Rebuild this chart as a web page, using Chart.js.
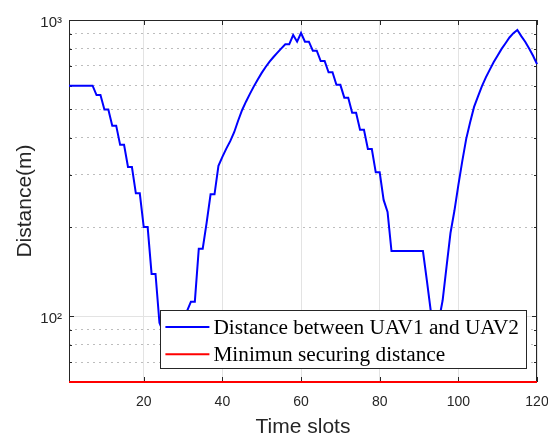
<!DOCTYPE html>
<html>
<head>
<meta charset="utf-8">
<script src="https://cdn.jsdelivr.net/npm/chart.js@4.4.0/dist/chart.umd.min.js"></script>
<style>
  html, body { margin: 0; padding: 0; background: #fff; }
  canvas { display: block; }
</style>
</head>
<body>
<canvas id="distChart" width="548" height="437"></canvas>
<script>
// time slots 1..120
const slots = Array.from({ length: 120 }, (_, i) => i + 1);

// distance between UAV1 and UAV2 (m)
const distance = [
  600, 600, 600, 600, 600, 600, 600, 558, 558, 499,
  499, 440, 440, 379, 379, 319, 319, 260, 260, 200,
  200, 139, 139, 95, 88, 80, 76, 80, 90, 100,
  104, 112, 112, 169, 169, 207, 258, 258, 322, 345,
  368, 390, 418, 457, 496, 530, 563, 597, 630, 663,
  694, 723, 750, 776, 802, 828, 828, 890, 845, 904,
  845, 845, 788, 788, 727, 727, 666, 666, 604, 604,
  547, 547, 486, 486, 426, 426, 367, 367, 306, 306,
  247, 225, 166, 166, 166, 166, 166, 166, 166, 166,
  166, 132, 104, 88, 96, 113, 147, 191, 227, 277,
  334, 397, 452, 509, 552, 598, 640, 680, 721, 759,
  799, 835, 873, 903, 925, 882, 845, 801, 757, 710
];

const minSecuring = 60;

const xTicks = [20, 40, 60, 80, 100, 120];
const yTicks = [60, 70, 80, 90, 100, 200, 300, 400, 500, 600, 700, 800, 900, 1000];
const yTickLabels = { 100: '10²', 1000: '10³' };

const isDecade = v => Math.abs(Math.log10(v) - Math.round(Math.log10(v))) < 1e-9;
const axisColor = '#262626';

// box round the plot with inward ticks, like matlab's "box on"
const axesBox = {
  id: 'axesBox',
  beforeDatasetsDraw(chart) {
    const { ctx, chartArea: a, scales } = chart;
    ctx.save();
    ctx.strokeStyle = axisColor;
    ctx.lineWidth = 1;
    ctx.strokeRect(a.left + 0.5, a.top + 0.5, a.right - a.left - 1, a.bottom - a.top);
    ctx.beginPath();
    xTicks.forEach(v => {
      const x = Math.round(scales.x.getPixelForValue(v)) + 0.5;
      ctx.moveTo(x, a.bottom); ctx.lineTo(x, a.bottom - 5);
      ctx.moveTo(x, a.top); ctx.lineTo(x, a.top + 5);
    });
    yTicks.forEach(v => {
      const y = Math.round(scales.y.getPixelForValue(v)) + 0.5;
      const len = isDecade(v) ? 5 : 3;
      ctx.moveTo(a.left, y); ctx.lineTo(a.left + len, y);
      ctx.moveTo(a.right, y); ctx.lineTo(a.right - len, y);
    });
    ctx.stroke();
    ctx.restore();
  }
};

// legend box inside the plot, bottom right
const legendBox = {
  id: 'legendBox',
  afterDraw(chart) {
    const { ctx, chartArea: a } = chart;
    const sets = chart.data.datasets;
    ctx.save();
    ctx.font = '21.3px "Liberation Serif", "Times New Roman", serif';
    const textW = Math.max(...sets.map(d => ctx.measureText(d.label).width));
    const padL = 5, lineLen = 44, gap = 4, padR = 7;
    const w = padL + lineLen + gap + textW + padR;
    const h = 58;
    const right = a.right - 11;
    const bottom = a.bottom - 14;
    const left = right - w, top = bottom - h;
    ctx.fillStyle = '#fff';
    ctx.fillRect(left, top, w, h);
    ctx.strokeStyle = axisColor;
    ctx.lineWidth = 1;
    ctx.strokeRect(Math.round(left) + 0.5, Math.round(top) + 0.5, Math.round(w), Math.round(h));
    sets.forEach((d, i) => {
      const y = top + 17 + i * 27.3;
      ctx.strokeStyle = d.borderColor;
      ctx.lineWidth = 2;
      ctx.beginPath();
      ctx.moveTo(left + padL, y);
      ctx.lineTo(left + padL + lineLen, y);
      ctx.stroke();
      ctx.fillStyle = '#000';
      ctx.textBaseline = 'middle';
      ctx.textAlign = 'left';
      ctx.fillText(d.label, left + padL + lineLen + gap, y + 1);
    });
    ctx.restore();
  }
};

new Chart(document.getElementById('distChart'), {
  type: 'line',
  data: {
    datasets: [{
      label: 'Distance between UAV1 and UAV2',
      data: slots.map((t, i) => ({ x: t, y: distance[i] })),
      borderColor: '#0000ff',
      borderWidth: 2,
      pointRadius: 0,
      tension: 0,
      clip: 3
    }, {
      label: 'Minimun securing distance',
      data: [{ x: slots[0], y: minSecuring }, { x: slots[slots.length - 1], y: minSecuring }],
      borderColor: '#ff0000',
      borderWidth: 2,
      pointRadius: 0,
      clip: 3
    }]
  },
  options: {
    responsive: false,
    animation: false,
    devicePixelRatio: 1,
    layout: { padding: { left: 0, right: 11, top: 20, bottom: 0 } },
    plugins: {
      legend: { display: false },
      tooltip: { enabled: false }
    },
    scales: {
      x: {
        type: 'linear',
        min: slots[0],
        max: slots[slots.length - 1],
        afterBuildTicks: s => { s.ticks = xTicks.map(v => ({ value: v })); },
        afterFit: s => { s.height = 55; s.paddingLeft = 0; s.paddingRight = 0; },
        ticks: {
          autoSkip: false,
          maxRotation: 0,
          padding: 12,
          color: axisColor,
          font: { family: '"Liberation Sans", Arial, sans-serif', size: 14 }
        },
        grid: { color: '#e3e3e3', lineWidth: 1, drawTicks: false },
        border: { display: false },
        title: {
          display: true,
          text: 'Time slots',
          color: axisColor,
          padding: { top: 0, bottom: -3 },
          font: { family: '"Liberation Sans", Arial, sans-serif', size: 21 }
        }
      },
      y: {
        type: 'logarithmic',
        min: 60,
        max: 1000,
        afterBuildTicks: s => { s.ticks = yTicks.map(v => ({ value: v })); },
        afterFit: s => { s.width = 69; s.paddingTop = 0; s.paddingBottom = 0; },
        ticks: {
          autoSkip: false,
          padding: 7,
          labelOffset: 3,
          color: axisColor,
          font: { family: '"Liberation Sans", Arial, sans-serif', size: 15 },
          callback: v => yTickLabels[v] || ''
        },
        grid: {
          drawTicks: false,
          lineWidth: 1,
          color: c => (c.tick && isDecade(c.tick.value)) ? '#e3e3e3' : '#bdbdbd'
        },
        border: {
          display: false,
          dash: c => (c.tick && !isDecade(c.tick.value)) ? [2, 4] : []
        },
        title: {
          display: true,
          text: 'Distance(m)',
          color: axisColor,
          padding: { top: 13, bottom: 0 },
          font: { family: '"Liberation Sans", Arial, sans-serif', size: 21 }
        }
      }
    }
  },
  plugins: [axesBox, legendBox]
});
</script>
</body>
</html>
